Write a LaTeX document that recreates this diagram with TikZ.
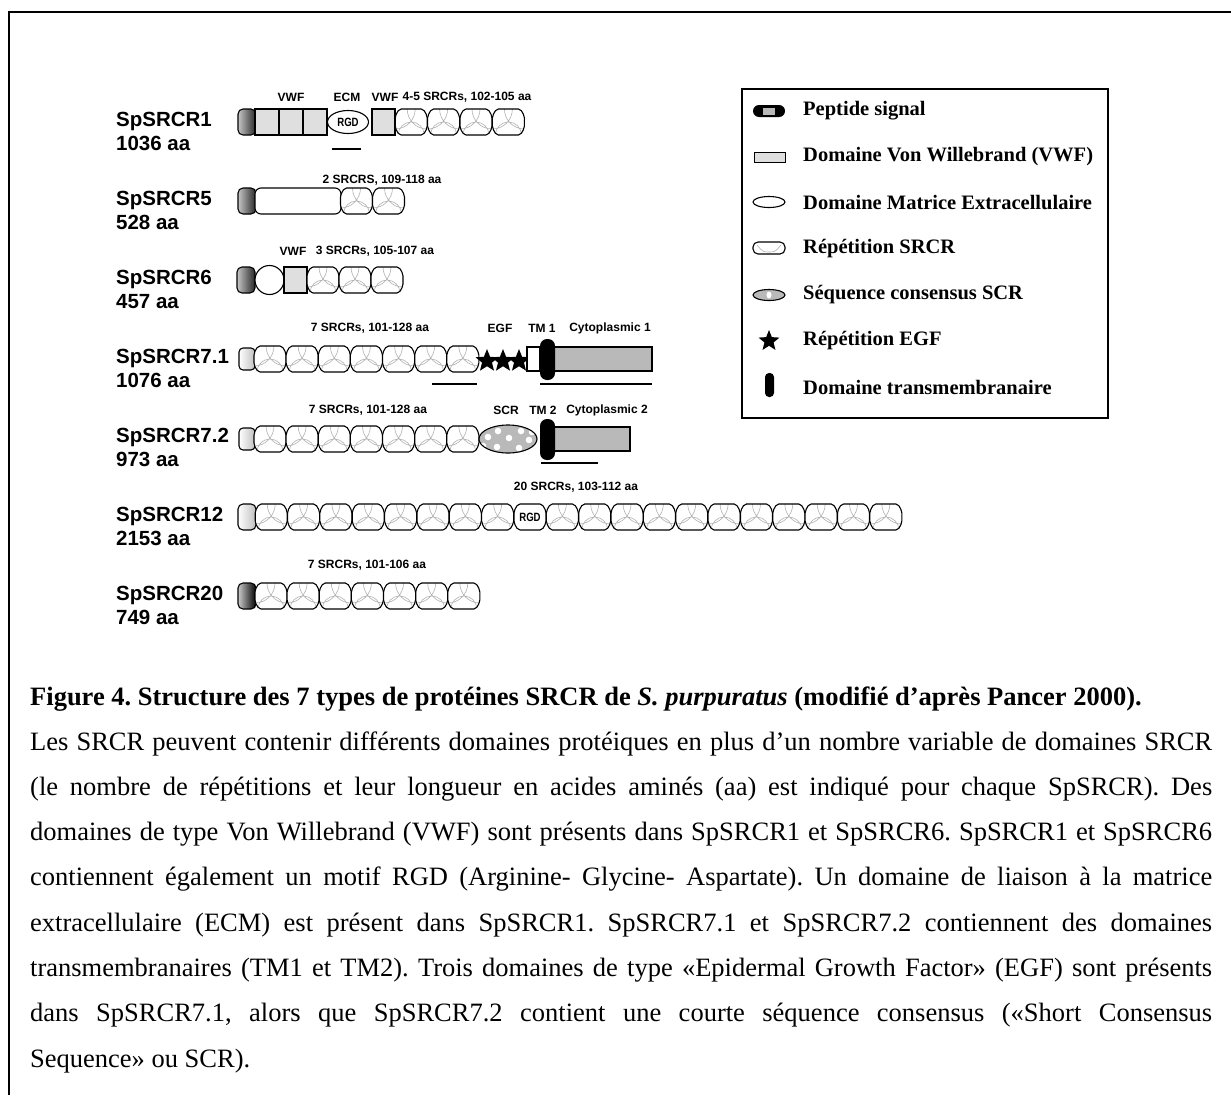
\documentclass[tikz,border=0pt]{standalone}
\usepackage{fontspec}
\setmainfont{Liberation Serif}
\newfontfamily\labelfont{Liberation Sans}
\newfontfamily\narrowfont{Liberation Sans}[FakeStretch=0.8]
\usetikzlibrary{shapes.geometric}
\frenchspacing
\newcommand\srcrpath{(-16,-6) -- (-12,-13) -- (12,-13) -- (16,-6) -- (16,6) -- (12,13) -- (-12,13) -- (-16,6) -- cycle}
\tikzset{
  protline/.style={draw, line width=1.1pt},
  vwfbox/.style={protline, fill=gray!25},
  cytobar/.style={protline, fill=gray!55},
  tmpill/.style={fill=black, rounded corners=7pt},
  ulbar/.style={line width=2.2pt},
  srcrline/.style={gray!60, line width=0.6pt},
  rowname/.style={font=\labelfont\bfseries\fontsize{20.5}{24}\selectfont, anchor=base west, inner sep=0pt},
  tag/.style={font=\labelfont\bfseries\fontsize{12}{14}\selectfont, inner sep=0pt},
  rgd/.style={font=\narrowfont\bfseries\fontsize{12}{14}\selectfont, inner sep=0pt},
  legtext/.style={font=\bfseries\fontsize{20.5}{24}\selectfont, anchor=west, inner sep=0pt},
  egfstar/.style={star, star points=5, star point ratio=2.3, fill=black, inner sep=0pt, minimum size=24pt},
  captext/.style={font=\fontsize{26.5}{30}\selectfont, anchor=base west, inner sep=0pt},
  pics/srcr/.style={code={
    \begin{scope}
      \clip[rounded corners=2pt] \srcrpath;
      \fill[white] (-16,-13) rectangle (16,13);
      \draw[srcrline] (-16,-13) circle (20pt) (16,-13) circle (20pt) (0,13) circle (13pt);
    \end{scope}
    \draw[protline, rounded corners=2pt] \srcrpath;
  }},
  pics/rgdbox/.style={code={
    \draw[protline, fill=white, rounded corners=2pt] \srcrpath;
    \node[rgd] {RGD};
  }}
}
\begin{document}
\begin{tikzpicture}[x=1pt,y=-1pt]
  \fill[white] (0,0) rectangle (1231,1095);
  \useasboundingbox (0,0) rectangle (1231,1095);
  \draw[line width=2.3pt] (9,1095) -- (9,12) -- (1231,12);

  \foreach \nm/\len [count=\i from 0] in {SpSRCR1/1036, SpSRCR5/528, SpSRCR6/457, SpSRCR7.1/1076, SpSRCR7.2/973, SpSRCR12/2153, SpSRCR20/749}
  {
    \node[rowname] (name\i) at (116,126+79*\i) {\nm};
    \node[rowname] (len\i) at (116,150+79*\i) {\len{} aa};
  }

  % SpSRCR1
  \shade[protline, left color=gray!45, right color=black!85, rounded corners=5pt] (238,109) rectangle (256,135);
  \foreach \x in {255,279,303} \draw[vwfbox] (\x,109) rectangle ++(24,26);
  \node[ellipse, protline, fill=white, minimum width=41pt, minimum height=23pt, rgd] (ecm) at (348,122) {RGD};
  \draw[vwfbox] (372,109) rectangle (395,135);
  \foreach \k in {0,...,3} \pic at (411.2+32.4*\k,122) {srcr};
  \draw[ulbar] (332,149) -- (361,149);
  \node[tag] (t1a) at (291,97) {VWF};
  \node[tag] (t1b) at (347,97) {ECM};
  \node[tag] (t1c) at (385,97) {VWF};
  \node[tag] (t1d) at (467,97) {4-5 SRCRs, 102-105 aa};

  % SpSRCR5
  \shade[protline, left color=gray!45, right color=black!85, rounded corners=5pt] (238,188) rectangle (256,214);
  \draw[protline, fill=white, rounded corners=6pt] (255,188) rectangle (341,214);
  \pic at (356.5,201) {srcr};
  \pic at (388.5,201) {srcr};
  \node[tag] (t5) at (382,180) {2 SRCRS, 109-118 aa};

  % SpSRCR6
  \shade[protline, left color=gray!45, right color=black!85, rounded corners=5pt] (237,267) rectangle (255,293);
  \draw[protline, fill=white] (269.5,280) circle (14.5pt);
  \draw[vwfbox] (284,267) rectangle (307,293);
  \foreach \k in {0,...,2} \pic at (323+32*\k,280) {srcr};
  \node[tag] (t6a) at (293,251) {VWF};
  \node[tag] (t6b) at (375,251) {3 SRCRs, 105-107 aa};

  % SpSRCR7.1
  \shade[protline, left color=white, right color=gray!50, rounded corners=4pt] (239,348) rectangle (255,370);
  \foreach \k in {0,...,6} \pic at (270+32.14*\k,359) {srcr};
  \foreach \x [count=\i] in {487,503,519} \node[egfstar] (egf\i) at (\x,361) {};
  \draw[protline, fill=white] (527,347) rectangle (540,371);
  \draw[cytobar] (554,347) rectangle (652,371);
  \fill[tmpill] (540,339) rectangle (555,380);
  \draw[ulbar] (432,384) -- (477,384);
  \draw[ulbar] (540,384) -- (652,384);
  \node[tag] (t7a) at (370,328) {7 SRCRs, 101-128 aa};
  \node[tag] (t7b) at (500,328) {EGF};
  \node[tag] (t7c) at (542,328) {TM 1};
  \node[tag] (t7d) at (610,328) {Cytoplasmic 1};

  % SpSRCR7.2
  \shade[protline, left color=white, right color=gray!50, rounded corners=4pt] (239,428) rectangle (255,450);
  \foreach \k in {0,...,6} \pic at (270+32.14*\k,439) {srcr};
  \node[ellipse, fill=gray!55, minimum width=58pt, minimum height=28pt, inner sep=0pt] (scr) at (508,439) {};
  \begin{scope}
    \clip (508,439) ellipse [x radius=29pt, y radius=14pt];
    \foreach \dx/\dy in {-20/-2, -10/-8, 1/-1, 13/-8, 21/1, -11/8, 11/9, -25/7, 24/-7}
      \fill[white] (508+\dx,439+\dy) circle (3.3pt);
  \end{scope}
  \draw[protline] (508,439) ellipse [x radius=29pt, y radius=14pt];
  \draw[cytobar] (554,427) rectangle (630,451);
  \fill[tmpill] (540,419) rectangle (555,460);
  \draw[ulbar] (541,463) -- (598,463);
  \node[tag] (t8a) at (368,410) {7 SRCRs, 101-128 aa};
  \node[tag] (t8b) at (506,410) {SCR};
  \node[tag] (t8c) at (543,410) {TM 2};
  \node[tag] (t8d) at (607,410) {Cytoplasmic 2};

  % SpSRCR12
  \shade[protline, left color=white, right color=gray!50, rounded corners=5pt] (238,504) rectangle (256,530);
  \foreach \k in {0,...,7,9,10,...,19} \pic at (271.2+32.35*\k,517) {srcr};
  \pic at (271.2+32.35*8,517) {rgdbox};
  \node[tag] (t12) at (576,487) {20 SRCRs, 103-112 aa};

  % SpSRCR20
  \shade[protline, left color=gray!40, right color=black, rounded corners=5pt] (238,583) rectangle (256,609);
  \foreach \k in {0,...,6} \pic at (271+32.14*\k,596) {srcr};
  \node[tag] (t20) at (367,565) {7 SRCRs, 101-106 aa};

  % legende
  \draw[line width=1.3pt] (742,89) rectangle (1108,418);
  \fill[rounded corners=6pt] (753,105) rectangle (785,117);
  \fill[gray!55] (763,107.5) rectangle (775,114.5);
  \draw[vwfbox, line width=1pt] (754,152) rectangle (785,162);
  \draw[protline] (769,202) ellipse [x radius=16pt, y radius=5.5pt];
  \draw[protline, fill=white, rounded corners=5pt] (753,242) rectangle (785,254);
  \draw[srcrline] (757,245) .. controls (763,252) .. (769,252) .. controls (775,252) .. (781,245);
  \draw[protline, fill=gray!55] (769,295) ellipse [x radius=16pt, y radius=5.5pt];
  \fill[white] (769,295) ellipse [x radius=2.5pt, y radius=3.5pt];
  \node[egfstar, minimum size=22pt] (legegf) at (769,341) {};
  \fill[rounded corners=4pt] (765,373) rectangle (774,397);
  \foreach \txt [count=\i from 0] in {Peptide signal, Domaine Von Willebrand (VWF), Domaine Matrice Extracellulaire, Répétition SRCR, Séquence consensus SCR, Répétition EGF, Domaine transmembranaire}
    \node[legtext] (leg\i) at (803,111+46*\i) {\txt};

  % legende de la figure
  \node[captext, font=\bfseries\fontsize{26.5}{30}\selectfont] (title) at (30,705) {Figure 4. Structure des 7 types de protéines SRCR de \textit{S. purpuratus} (modifié d’après Pancer 2000).};
  \foreach \ln [count=\k from 0] in {
    {Les SRCR peuvent contenir différents domaines protéiques en plus d’un nombre variable de domaines SRCR},
    {(le nombre de répétitions et leur longueur en acides aminés (aa) est indiqué pour chaque SpSRCR). Des},
    {domaines de type Von Willebrand (VWF) sont présents dans SpSRCR1 et SpSRCR6. SpSRCR1 et SpSRCR6},
    {contiennent également un motif RGD (Arginine- Glycine- Aspartate). Un domaine de liaison à la matrice},
    {extracellulaire (ECM) est présent dans SpSRCR1. SpSRCR7.1 et SpSRCR7.2 contiennent des domaines},
    {transmembranaires (TM1 et TM2). Trois domaines de type «Epidermal Growth Factor» (EGF) sont présents},
    {dans SpSRCR7.1, alors que SpSRCR7.2 contient une courte séquence consensus («Short Consensus}}
    \node[captext] (cap\k) at (30,750+45.3*\k) {\makebox[1182pt][s]{\ln}};
  \node[captext] (cap7) at (30,1067) {Sequence» ou SCR).};
\end{tikzpicture}
\end{document}
